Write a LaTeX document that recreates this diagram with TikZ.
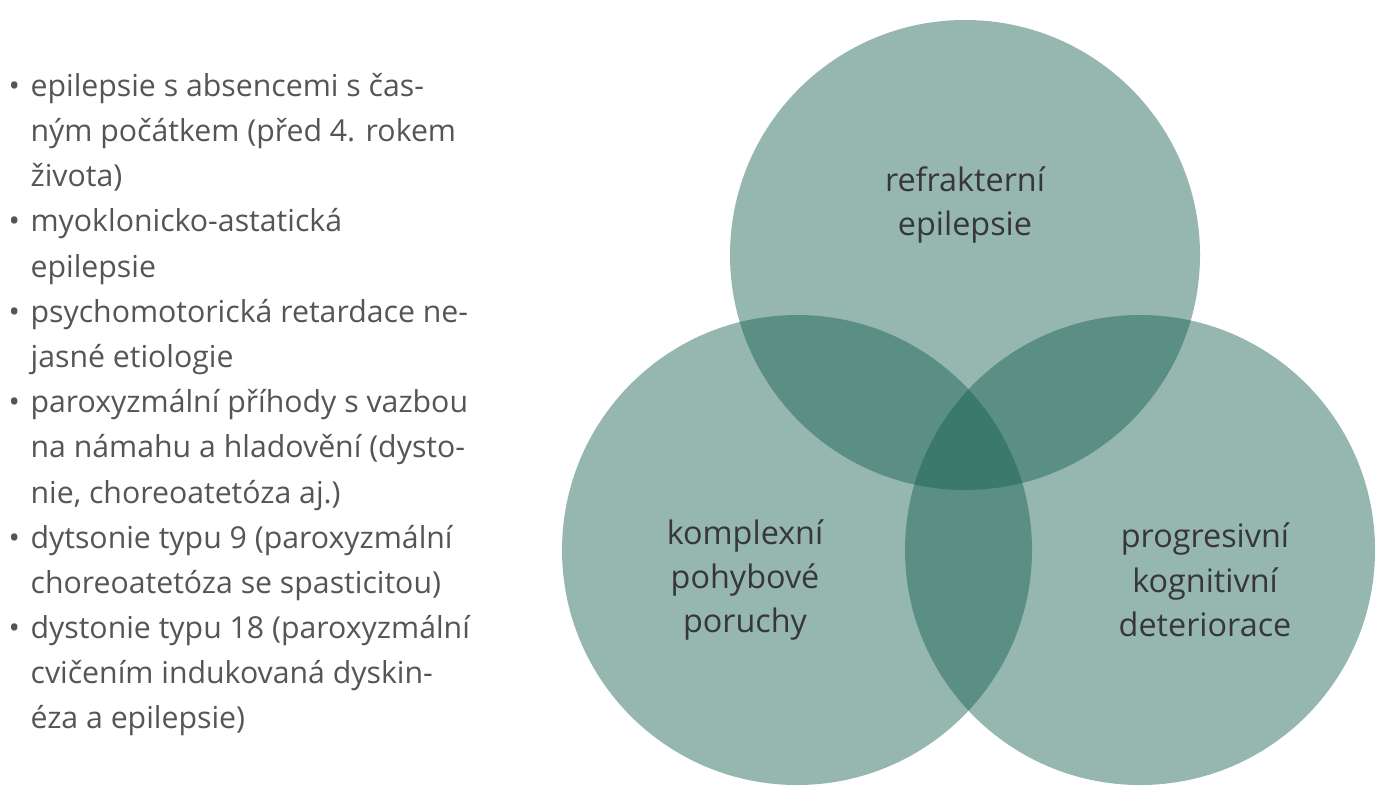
\documentclass[tikz,border=0pt]{standalone}
\usepackage{fontspec}
\setmainfont{Open Sans}
\definecolor{venn}{RGB}{20,95,78}
\definecolor{listgray}{RGB}{85,85,85}
\definecolor{labelgray}{RGB}{55,55,55}
\tikzset{
  set/.style={fill=venn,fill opacity=0.45,draw=none},
  setlabel/.style={align=center,text=labelgray,font=\fontsize{9.2pt}{12.6pt}\selectfont},
}
\begin{document}
\begin{tikzpicture}[x=0.01cm,y=-0.01cm]
  \useasboundingbox (0,0) rectangle (1395,800);
  \fill[set] (965,255) circle (235);
  \fill[set] (797,550) circle (235);
  \fill[set] (1140,550) circle (235);

  \node[setlabel] (refr) at (965,205) {refrakterní\\epilepsie};
  \node[setlabel] (kompl) at (745,580) {komplexní\\pohybové\\poruchy};
  \node[setlabel] (progr) at (1205,580) {progresivní\\kognitivní\\deteriorace};

  \node[anchor=north west,inner sep=0pt,text=listgray,
        font=\fontsize{8.6pt}{12.85pt}\selectfont] (list) at (8,64) {%
    \begin{tabular}{@{}l@{\hspace{3pt}}l@{}}
    \textbullet & epilepsie s absencemi s čas-\\
     & ným počátkem (před 4. rokem\\
     & života)\\
    \textbullet & myoklonicko-astatická\\
     & epilepsie\\
    \textbullet & psychomotorická retardace ne-\\
     & jasné etiologie\\
    \textbullet & paroxyzmální příhody s vazbou\\
     & na námahu a hladovění (dysto-\\
     & nie, choreoatetóza aj.)\\
    \textbullet & dytsonie typu 9 (paroxyzmální\\
     & choreoatetóza se spasticitou)\\
    \textbullet & dystonie typu 18 (paroxyzmální\\
     & cvičením indukovaná dyskin-\\
     & éza a epilepsie)
    \end{tabular}};
\end{tikzpicture}
\end{document}
